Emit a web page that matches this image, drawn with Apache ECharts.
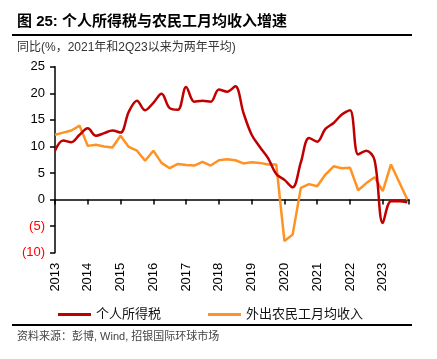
<!DOCTYPE html>
<html>
<head>
<meta charset="utf-8">
<script src="https://cdn.jsdelivr.net/npm/echarts@6/dist/echarts.min.js"></script>
<style>
html,body{margin:0;padding:0;background:#fff;}
#chart{width:437px;height:359px;}
</style>
</head>
<body>
<div id="chart"></div>
<script>
// Quarterly time positions (year fractions)
const quarters = [
  2013.00,2013.25,2013.50,2013.75,2014.00,2014.25,2014.50,2014.75,
  2015.00,2015.25,2015.50,2015.75,2016.00,2016.25,2016.50,2016.75,
  2017.00,2017.25,2017.50,2017.75,2018.00,2018.25,2018.50,2018.75,
  2019.00,2019.25,2019.50,2019.75,2020.00,2020.25,2020.50,2020.75,
  2021.00,2021.25,2021.50,2021.75,2022.00,2022.25,2022.50,2022.75,
  2023.00,2023.25,2023.50,2023.75
];
// 个人所得税 YoY %
const incomeTax = [
  9.2,11.1,10.8,12.2,13.4,12.0,12.5,13.0,
  12.6,16.5,18.6,16.8,18.2,19.9,17.2,16.9,
  21.2,18.4,18.6,18.4,20.7,20.3,21.3,16.3,
  12.2,9.9,7.8,4.8,3.7,2.3,7.0,11.6,
  10.9,13.3,14.4,16.0,16.8,8.5,9.2,7.4,
  -4.4,-0.3,-0.3,-0.5
];
// 外出农民工月均收入 YoY %
const migrantIncome = [
  12.2,12.6,13.0,13.9,10.1,10.3,10.0,9.8,
  12.0,9.9,9.2,7.3,9.2,6.9,5.9,6.7,
  6.5,6.4,7.1,6.4,7.4,7.6,7.4,6.8,
  7.0,6.9,6.6,6.6,-7.8,-6.6,2.2,2.9,
  2.5,4.7,6.25,5.9,6.0,1.75,3.1,4.2,
  1.6,6.6,3.3,0.0
];
const yearTicks = [2013,2014,2015,2016,2017,2018,2019,2020,2021,2022,2023];
const yTicks = [-10,-5,0,5,10,15,20,25];
const seriesNames = ['个人所得税','外出农民工月均收入'];

const chart = echarts.init(document.getElementById('chart'), null, {renderer:'canvas'});
const font = '"Liberation Sans", Arial, "Noto Sans CJK SC", sans-serif';
const xCommon = {type:'value', min:2013, max:2023.8, interval:1, splitLine:{show:false}};
chart.setOption({
  animation:false,
  backgroundColor:'#fff',
  graphic:[
    {type:'text', left:17, top:14, style:{text:'图 25: 个人所得税与农民工月均收入增速', font:'bold 15px '+font, fill:'#000'}},
    {type:'rect', shape:{x:12, y:34, width:400, height:2}, style:{fill:'#000'}},
    {type:'text', left:17, top:42, style:{text:'同比(%，2021年和2Q23以来为两年平均)', font:'12px '+font, fill:'#333'}},
    {type:'rect', shape:{x:12, y:324, width:400, height:2}, style:{fill:'#000'}},
    {type:'text', left:17, top:331, style:{text:'资料来源：彭博, Wind, 招银国际环球市场', font:'11px '+font, fill:'#444'}}
  ],
  legend:{
    data:seriesNames, top:303, left:53, itemGap:47, itemWidth:33, itemHeight:3,
    icon:'rect',
    textStyle:{fontSize:13, color:'#111', fontFamily:font}
  },
  grid:{left:55, top:66.7, right:28, bottom:106.3},
  xAxis:[
    Object.assign({}, xCommon, {
      axisLine:{show:false, onZero:false}, axisTick:{show:false},
      axisLabel:{rotate:90, fontSize:13, color:'#000', fontFamily:font, margin:10,
        formatter:v => yearTicks.includes(Math.round(v)) && Math.abs(v-Math.round(v))<1e-6 ? String(Math.round(v)) : ''}
    }),
    Object.assign({}, xCommon, {
      position:'bottom',
      axisLine:{show:true, onZero:true, lineStyle:{color:'#000', width:1.5}},
      axisTick:{show:true, inside:false, length:5, lineStyle:{color:'#000', width:1.5}},
      axisLabel:{show:false}
    })
  ],
  yAxis:{
    type:'value', min:-10, max:25, interval:5,
    splitLine:{show:false},
    axisLine:{show:true, lineStyle:{color:'#000', width:1.5}},
    axisTick:{show:true, length:5, lineStyle:{color:'#000', width:1.5}},
    axisLabel:{fontSize:13, fontFamily:font, margin:10,
      color:v => (Number(v) < 0 ? '#FF0000' : '#000'),
      formatter:v => v < 0 ? '(' + Math.abs(v) + ')' : String(v)}
  },
  series:[
    {name:seriesNames[0], type:'line', xAxisIndex:0, smooth:0.35, symbol:'none',
     lineStyle:{color:'#C00000', width:2.5}, itemStyle:{color:'#C00000'},
     data:quarters.map((q,i)=>[q, incomeTax[i]]), z:3},
    {name:seriesNames[1], type:'line', xAxisIndex:0, smooth:false, symbol:'none',
     lineStyle:{color:'#FF9224', width:2.5}, itemStyle:{color:'#FF9224'},
     data:quarters.map((q,i)=>[q, migrantIncome[i]]), z:2}
  ]
});
</script>
</body>
</html>
